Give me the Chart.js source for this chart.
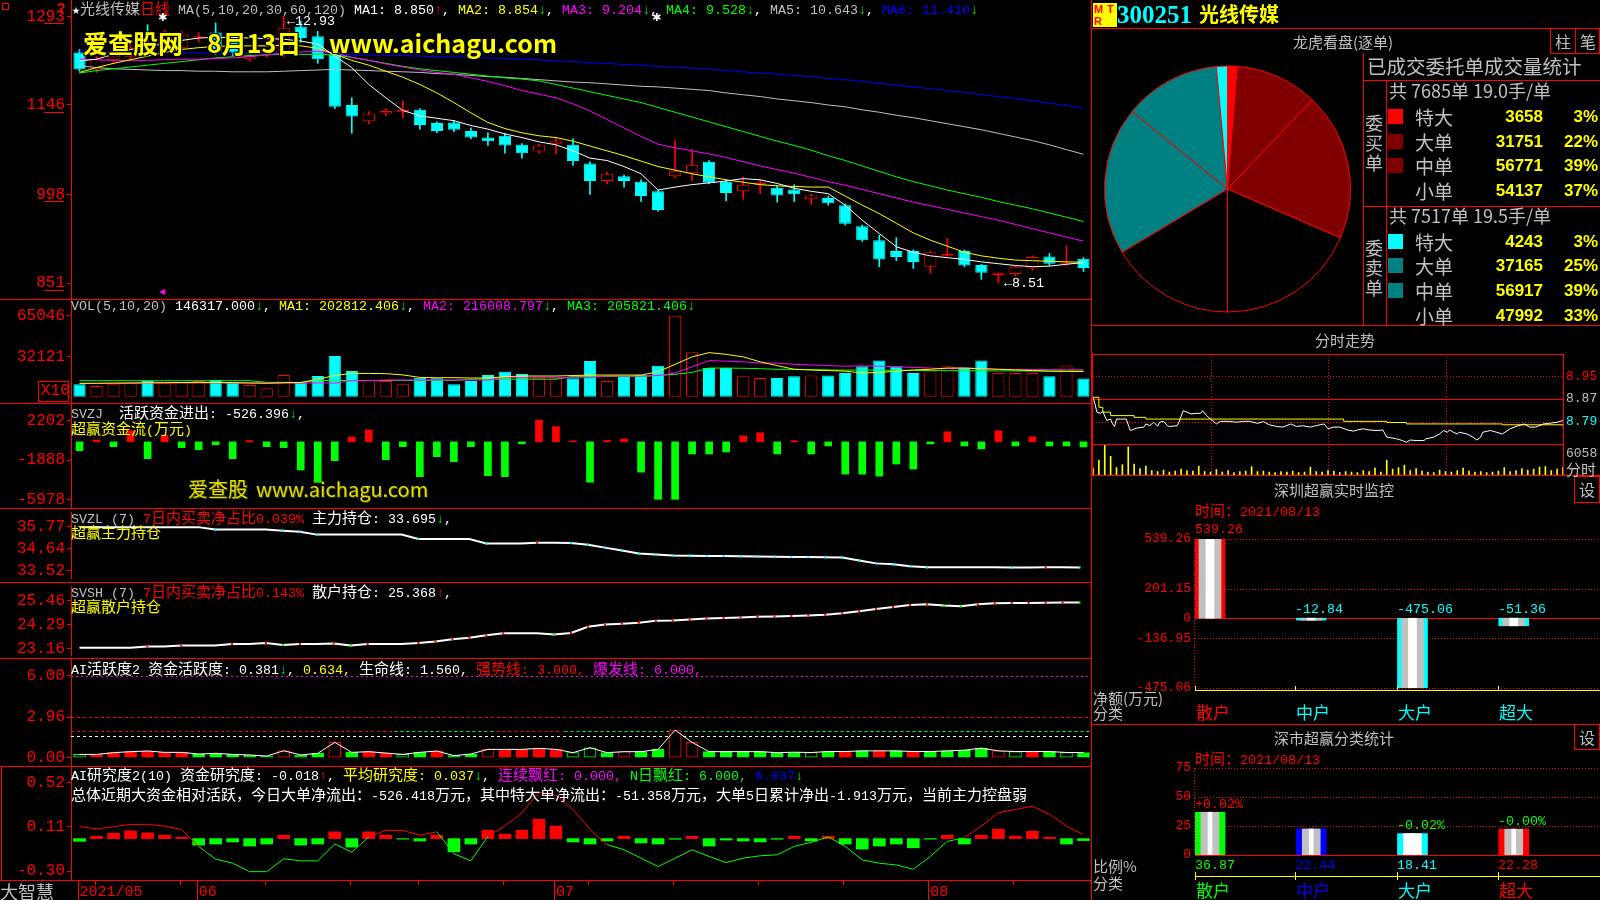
<!DOCTYPE html>
<html><head><meta charset="utf-8">
<script src="https://cdn.jsdelivr.net/npm/chart.js"></script>
<style>
html,body{margin:0;padding:0;background:#000;}
body{width:1600px;height:900px;overflow:hidden;position:relative;}
canvas{position:absolute;display:block;}
.t{position:absolute;white-space:pre;font-family:"Liberation Mono","DejaVu Sans Mono",monospace;font-size:13.33px;line-height:16px;color:#fff;z-index:5;}
.t .c{font-family:"Noto Sans CJK SC",sans-serif;font-size:15px;}
.d{position:absolute;white-space:pre;z-index:5;font-family:"Noto Sans CJK SC",sans-serif;line-height:1;}
.hl{position:absolute;height:1px;background:#f00;z-index:4;}
.vl{position:absolute;width:1px;background:#f00;z-index:4;}
.bx{position:absolute;border:1px solid #f00;box-sizing:border-box;z-index:4;}
</style></head><body>
<script>
// ---------------- DATA ----------------
const dates = ['2021-05-21','2021-05-24','2021-05-25','2021-05-26','2021-05-27','2021-05-28','2021-05-31',
'2021-06-01','2021-06-02','2021-06-03','2021-06-04','2021-06-07','2021-06-08','2021-06-09','2021-06-10','2021-06-11','2021-06-15','2021-06-16','2021-06-17','2021-06-18','2021-06-21','2021-06-22','2021-06-23','2021-06-24','2021-06-25','2021-06-28','2021-06-29','2021-06-30',
'2021-07-01','2021-07-02','2021-07-05','2021-07-06','2021-07-07','2021-07-08','2021-07-09','2021-07-12','2021-07-13','2021-07-14','2021-07-15','2021-07-16','2021-07-19','2021-07-20','2021-07-21','2021-07-22','2021-07-23','2021-07-26','2021-07-27','2021-07-28','2021-07-29','2021-07-30',
'2021-08-02','2021-08-03','2021-08-04','2021-08-05','2021-08-06','2021-08-09','2021-08-10','2021-08-11','2021-08-12','2021-08-13'];

const open  = [12.33,12.05,12.20,12.25,12.50,12.45,12.41,12.58,12.66,12.52,12.22,12.30,12.30,12.76,12.60,12.30,11.46,11.19,11.32,11.35,11.38,11.16,11.17,11.03,10.92,10.95,10.80,10.69,10.81,10.80,10.49,10.20,10.28,10.19,10.03,10.28,10.33,10.52,10.19,10.03,10.14,10.09,10.06,9.90,9.92,9.80,9.45,9.22,9.04,9.04,8.78,8.96,9.04,8.81,8.64,8.66,8.75,8.95,8.83,8.91];
const high  = [12.38,12.27,12.35,12.45,12.79,12.70,12.68,12.66,12.82,12.60,12.35,12.52,12.93,12.85,12.68,12.35,11.58,11.35,11.40,11.53,11.40,11.18,11.20,11.08,11.00,10.99,10.82,10.81,10.92,10.90,10.52,10.35,10.30,10.22,10.05,10.87,10.72,10.54,10.22,10.27,10.22,10.12,10.14,9.98,9.95,9.82,9.47,9.30,9.26,9.06,9.04,9.25,9.06,8.82,8.68,8.80,8.96,9.00,9.12,8.93];
const low   = [12.02,12.00,12.15,12.20,12.35,12.40,12.38,12.50,12.30,12.28,12.18,12.25,12.25,12.50,12.15,11.40,10.99,11.15,11.28,11.25,11.06,11.00,11.02,10.90,10.79,10.66,10.58,10.66,10.65,10.46,9.98,10.15,10.10,9.86,9.70,10.25,10.20,10.15,9.87,9.90,9.99,9.85,9.86,9.81,9.80,9.47,9.20,8.78,8.88,8.75,8.67,8.95,8.78,8.57,8.51,8.62,8.72,8.80,8.80,8.70];
const close = [12.05,12.22,12.28,12.40,12.40,12.60,12.63,12.60,12.35,12.33,12.27,12.46,12.74,12.57,12.22,11.43,11.27,11.32,11.36,11.38,11.13,11.03,11.05,10.92,10.86,10.79,10.66,10.79,10.87,10.53,10.20,10.32,10.20,9.95,9.72,10.37,10.47,10.17,10.00,10.14,10.17,9.96,9.98,9.96,9.83,9.49,9.22,8.90,8.94,8.86,9.02,8.99,8.80,8.68,8.67,8.78,8.94,8.83,8.85,8.76];

const ma5   = [12.19,12.22,12.30,12.38,12.42,12.48,12.53,12.57,12.58,12.58,12.57,12.56,12.55,12.52,12.47,12.27,12.08,11.80,11.58,11.37,11.28,11.24,11.20,11.12,11.06,10.98,10.92,10.85,10.80,10.70,10.58,10.54,10.44,10.32,10.05,10.10,10.14,10.17,10.20,10.24,10.22,10.16,10.08,10.03,9.99,9.80,9.55,9.33,9.11,9.02,8.96,8.93,8.90,8.86,8.83,8.80,8.78,8.79,8.82,8.850];
const ma10  = [12.00,12.08,12.15,12.21,12.27,12.33,12.38,12.41,12.43,12.44,12.44,12.44,12.45,12.44,12.40,12.30,12.20,12.12,12.02,11.92,11.80,11.66,11.50,11.33,11.17,11.07,11.00,10.95,10.92,10.86,10.78,10.70,10.62,10.53,10.44,10.38,10.32,10.27,10.22,10.18,10.14,10.12,10.11,10.10,10.10,9.95,9.80,9.66,9.50,9.34,9.22,9.12,9.02,8.96,8.92,8.89,8.88,8.87,8.86,8.854];
const ma20  = [12.22,12.21,12.20,12.20,12.20,12.21,12.22,12.22,12.23,12.24,12.26,12.29,12.32,12.34,12.35,12.33,12.25,12.20,12.14,12.09,12.04,12.00,11.97,11.91,11.85,11.78,11.70,11.64,11.58,11.48,11.36,11.22,11.08,10.94,10.81,10.75,10.70,10.65,10.59,10.52,10.45,10.39,10.33,10.26,10.19,10.13,10.06,9.99,9.92,9.85,9.79,9.73,9.67,9.61,9.55,9.48,9.41,9.34,9.27,9.204];
const ma30  = [11.99,12.03,12.06,12.09,12.12,12.15,12.18,12.21,12.24,12.26,12.28,12.29,12.30,12.30,12.30,12.29,12.25,12.20,12.15,12.10,12.06,12.03,12.00,11.97,11.94,11.91,11.89,11.86,11.80,11.74,11.68,11.62,11.56,11.50,11.42,11.34,11.26,11.18,11.10,11.02,10.94,10.86,10.79,10.71,10.62,10.54,10.45,10.36,10.27,10.19,10.12,10.05,9.99,9.93,9.86,9.80,9.74,9.67,9.60,9.528];
const ma60  = [12.11,12.08,12.06,12.05,12.04,12.03,12.03,12.02,12.02,12.01,12.01,12.01,12.02,12.03,12.04,12.05,12.04,12.03,12.02,12.01,12.00,11.98,11.97,11.95,11.93,11.92,11.90,11.88,11.86,11.84,11.83,11.81,11.79,11.77,11.76,11.74,11.72,11.70,11.66,11.63,11.60,11.56,11.53,11.50,11.46,11.43,11.38,11.34,11.29,11.25,11.20,11.15,11.10,11.05,10.99,10.93,10.87,10.80,10.72,10.643];
const ma120 = [12.35,12.35,12.34,12.34,12.33,12.33,12.33,12.32,12.32,12.32,12.31,12.31,12.31,12.30,12.30,12.30,12.29,12.29,12.28,12.28,12.27,12.26,12.26,12.25,12.24,12.23,12.22,12.21,12.19,12.18,12.16,12.15,12.13,12.12,12.10,12.09,12.07,12.05,12.03,12.01,11.99,11.97,11.95,11.93,11.90,11.88,11.85,11.82,11.79,11.76,11.73,11.70,11.67,11.63,11.60,11.57,11.53,11.49,11.45,11.410];

const vol     = [9905,8566,9905,11511,12582,10708,11511,12582,13385,11511,9370,6693,17400,11511,16597,32659,20613,13385,12582,9905,15259,14724,9905,12582,17400,20078,18204,15259,14724,14724,28644,12582,16597,17400,24896,65051,35604,23000,23000,16500,15000,15000,16500,17000,17000,19000,24500,29000,24500,19000,20500,24500,23000,29000,19000,19000,19000,16500,25000,14632];
const volMa5  = [10700,10800,10900,11000,11200,11300,11400,11500,11400,11300,11000,10800,11200,11400,14000,17000,18700,18700,18500,17500,15500,15200,15260,15000,15000,16000,16600,16600,16600,17000,17400,17400,17400,17400,20000,26000,32000,35400,34000,32000,28000,25000,22000,21400,21000,20500,19000,19500,20500,21500,22000,23000,23000,22500,22000,21500,21000,20500,20300,20281];
const volMa10 = [10700,10700,10800,10800,10900,10900,11000,11000,11000,11000,11000,11000,11000,11000,11000,11000,12800,12800,13400,13400,13400,13400,13400,13400,13400,15260,15260,15260,15260,15260,15260,16600,16600,16600,17000,19000,24000,29000,28500,28000,27000,27000,26000,25500,25000,24500,24700,24500,24000,23500,23000,22500,23000,22500,22000,22000,21800,21700,21650,21601];
const volMa20 = [12850,12850,12850,12850,12850,12850,12850,12850,12850,12850,12850,11500,11500,11500,13000,13000,13000,13000,13000,13000,13000,13000,13000,14000,14000,14000,14000,14000,14000,16300,16300,16300,16300,16300,17000,18000,19500,23000,23000,22800,22500,22000,22000,21800,21500,21400,21400,21300,21200,21100,21000,20900,20900,20800,20700,20700,20600,20600,20600,20582];

const svzj = [-918,200,-500,1160,-1750,710,-600,-810,-300,-1750,120,-500,-600,-2930,-4210,-1960,500,1230,-1850,-500,-3620,-1540,-2060,-500,-3520,-3620,-200,2270,1580,100,-4196,150,300,-3147,-5979,-5979,-1259,-1259,-1049,629,944,-1259,105,-1259,-420,-3357,-3357,-3567,-2308,-2832,-210,1049,-420,-734,1154,-420,524,-420,-420,-526];
const svzl = [35.74,35.74,35.74,35.74,35.74,35.74,35.74,35.74,35.62,35.62,35.62,35.62,35.56,35.51,35.36,35.36,35.36,35.36,35.36,35.36,35.14,35.14,35.14,35.14,34.91,34.91,34.91,34.95,34.95,34.93,34.85,34.70,34.55,34.40,34.35,34.30,34.29,34.28,34.27,34.26,34.25,34.24,34.23,34.22,34.21,34.20,34.05,33.90,33.85,33.75,33.70,33.70,33.70,33.70,33.70,33.69,33.69,33.70,33.70,33.695];
const svsh = [23.20,23.20,23.20,23.20,23.26,23.26,23.30,23.30,23.30,23.37,23.37,23.42,23.33,23.37,23.37,23.40,23.30,23.37,23.37,23.37,23.42,23.50,23.60,23.67,23.79,23.89,23.89,23.89,23.83,23.90,24.20,24.31,24.35,24.40,24.49,24.50,24.55,24.60,24.62,24.65,24.68,24.70,24.72,24.75,24.78,24.85,24.95,25.06,25.15,25.25,25.28,25.22,25.19,25.28,25.33,25.34,25.35,25.36,25.37,25.368];

const aiAct    = [0.24,0.24,0.37,0.44,0.49,0.39,0.39,0.27,0.32,0.24,0.20,0.12,0.51,0.20,0.32,1.12,0.39,0.44,0.34,0.24,0.39,0.49,0.15,0.27,0.61,0.61,0.61,0.68,0.61,0.37,0.73,0.37,0.44,0.44,0.61,2.02,1.12,0.44,0.44,0.44,0.44,0.37,0.40,0.38,0.45,0.45,0.50,0.50,0.50,0.45,0.45,0.50,0.55,0.70,0.50,0.45,0.45,0.45,0.38,0.381];
const aiActDir = [-1,1,1,1,1,1,1,-1,-1,-1,-1,-1,1,-1,-1,1,-1,1,1,-1,-1,1,-1,-1,1,1,1,1,1,-1,-1,-1,1,-1,-1,1,1,-1,-1,-1,-1,-1,-1,-1,-1,1,-1,1,-1,1,-1,-1,-1,-1,1,-1,1,-1,-1,-1];
const aiActNew = [1,0,0,0,0,0,0,0,0,0,0,0,1,0,0,1,0,0,0,1,0,0,0,0,1,0,0,0,0,1,1,0,1,0,0,1,1,0,0,0,0,0,0,1,0,0,0,0,0,0,0,0,0,0,1,1,0,0,1,0];
const lifeLine = 1.56, strongLine = 3.0, burstLine = 6.0, aiMidLevel = 1.95;
const aiMidRed = [[0,18],[25,28]], aiMidGreen = [[19,24],[29,59]];

const aiRes     = [-0.025,0.022,0.05,0.072,0.053,0.031,0.013,-0.06,-0.05,-0.031,-0.069,-0.05,0.031,-0.06,-0.05,0.063,-0.078,0.063,0.031,-0.005,-0.022,0.031,-0.122,-0.05,0.078,0.041,0.078,0.18,0.116,-0.031,-0.05,-0.022,0.022,-0.04,-0.05,-0.006,0.022,-0.069,-0.013,-0.022,-0.031,-0.006,0.022,-0.022,0.022,-0.05,-0.097,-0.069,-0.05,-0.085,-0.005,0.031,-0.05,0.031,0.088,0.022,0.069,0.013,-0.05,-0.018];
const aiResLine = [0.110,0.091,0.110,0.132,0.132,0.116,0.085,-0.072,-0.19,-0.228,-0.306,-0.306,-0.187,-0.206,-0.206,-0.05,-0.125,0.016,0.076,0.076,0.032,0.063,-0.14,-0.206,0.022,0.116,0.24,0.43,0.40,0.27,0.085,-0.056,-0.103,-0.181,-0.259,-0.181,-0.103,-0.165,-0.222,-0.181,-0.159,-0.15,-0.072,-0.034,0.016,-0.072,-0.197,-0.228,-0.244,-0.284,-0.165,-0.025,0.007,0.116,0.24,0.27,0.30,0.226,0.116,0.038];

const priceTicks = [12.93,11.46,9.98,8.51];
const volTicks   = [65046,32121];
const svzjTicks  = [2202,-1888,-5978];
const svzlTicks  = [35.77,34.64,33.52];
const svshTicks  = [25.46,24.29,23.16];
const aiActTicks = [6.00,2.96,0.00];
const aiResTicks = [0.52,0.11,-0.30];

// intraday
const prevClose = 8.87;
const intraMin   = [0,1,2,4,5,7,9,10,11,12,14,17,19,20,22,26,27,29,31,33,34,36,38,39,43,44,46,48,50,53,55,56,58,60,61,63,65,70,73,77,80,84,87,90,94,97,101,104,107,111,114,118,120,123,126,130,133,135,138,141,145,148,150,152,155,158,160,162,165,169,170,174,177,179,181,182,184,186,187,191,194,196,198,199,203,206,209,213,216,220,223,226,230,233,237,240];
const intraPrice = [8.876,8.853,8.824,8.820,8.827,8.795,8.800,8.783,8.774,8.800,8.800,8.800,8.760,8.762,8.768,8.772,8.783,8.777,8.789,8.775,8.789,8.792,8.777,8.774,8.777,8.791,8.829,8.824,8.818,8.820,8.820,8.829,8.812,8.800,8.795,8.783,8.792,8.792,8.789,8.792,8.792,8.785,8.791,8.780,8.774,8.772,8.783,8.774,8.777,8.772,8.777,8.783,8.766,8.772,8.772,8.762,8.758,8.762,8.766,8.762,8.760,8.762,8.737,8.735,8.731,8.725,8.719,8.727,8.725,8.725,8.731,8.737,8.748,8.760,8.754,8.762,8.754,8.748,8.754,8.748,8.737,8.727,8.737,8.754,8.760,8.754,8.748,8.766,8.774,8.783,8.772,8.772,8.783,8.785,8.789,8.795];
const intraAvgMin = [0,3,5,9,21,27,128,150,160,209,240];
const intraAvg    = [8.876,8.841,8.824,8.812,8.806,8.800,8.792,8.788,8.783,8.780,8.775];
const intraVol = [1400,3000,6058,3800,1500,2100,5700,2200,1300,1800,900,700,1000,600,800,1200,900,800,1800,700,600,1100,600,900,500,700,800,1700,700,800,600,500,700,600,800,500,600,1600,700,600,900,800,500,700,600,500,900,700,1400,600,3000,1200,1500,2000,900,1300,800,600,500,1000,700,600,900,1400,800,600,700,500,600,800,1500,700,900,1300,1000,1200,1600,1700,900,1200,1500];
const intraTicks = [8.95,8.87,8.79];

// order-book pie
const orderLabels = ['特大','大单','中单','小单'];
const buyVol  = [3658,31751,56771,54137];
const sellVol = [4243,37165,56917,47992];
const buyOrders = 7685, buyPerOrder = '19.0', sellOrders = 7517, sellPerOrder = '19.5';

// right bar charts
const classes  = ['散户','中户','大户','超大'];
const netFlow  = [539.26,-12.84,-475.06,-51.36];
const netTicks = [539.26,201.15,0,-136.95,-475.06];
const ratioPct = [36.87,22.44,18.41,22.28];
const ratioChg = ['+0.02%','','-0.02%','-0.00%'];
const pctTicks = [75,50,25,0];
const reportDate = '2021/08/13';

// ---------------- RENDER ----------------
const RED='#ff0000',CYAN='#00ffff',GREEN='#00ff00',YEL='#ffff00',MAG='#ff00ff',WHITE='#ffffff',GRAY='#c0c0c0',BLUE='#0000ff',TEAL='#008080',DRED='#800000';

Chart.defaults.animation = false;
Chart.defaults.responsive = false;
Chart.defaults.devicePixelRatio = 1;
Chart.defaults.plugins.legend.display = false;
Chart.defaults.plugins.tooltip.enabled = false;
Chart.defaults.font.family = 'Liberation Mono';

const deco = {
  id:'deco',
  beforeDatasetsDraw(chart, args, o){
    const {ctx, chartArea:a, scales} = chart;
    ctx.save(); ctx.lineWidth = 1;
    (o.h||[]).forEach(l=>{
      const py = Math.round(scales.y.getPixelForValue(l.v))+0.5;
      let x0=a.left, x1=a.right;
      if (l.i0 !== undefined){
        const hw=(scales.x.getPixelForValue(1)-scales.x.getPixelForValue(0))/2;
        x0=scales.x.getPixelForValue(l.i0)-hw; x1=scales.x.getPixelForValue(l.i1)+hw;
      }
      ctx.strokeStyle=l.c; ctx.setLineDash(l.d?Array.from(l.d):[]);
      ctx.beginPath(); ctx.moveTo(x0,py); ctx.lineTo(x1,py); ctx.stroke();
    });
    (o.v||[]).forEach(l=>{
      const px = Math.round(scales.x.getPixelForValue(l.v))+0.5;
      ctx.strokeStyle=l.c; ctx.setLineDash(l.d?Array.from(l.d):[]);
      ctx.beginPath(); ctx.moveTo(px,a.top); ctx.lineTo(px,a.bottom); ctx.stroke();
    });
    if (o.left){
      const px=Math.round(a.left)-0.5;
      ctx.strokeStyle=o.left; ctx.setLineDash([1,2]);
      ctx.beginPath(); ctx.moveTo(px,a.top); ctx.lineTo(px,a.bottom); ctx.stroke();
    }
    ctx.restore();
  },
  afterDraw(chart, args, o){
    const {ctx, chartArea:a, scales} = chart;
    ctx.save(); ctx.lineWidth=1; ctx.strokeStyle=RED; ctx.setLineDash([]);
    if (o.ul){
      scales.y.ticks.forEach(t=>{
        const py=Math.round(scales.y.getPixelForValue(t.value))+7.5;
        ctx.beginPath(); ctx.moveTo(44,py); ctx.lineTo(64,py); ctx.stroke();
      });
    }
    if (o.dt){
      const x=scales.x, top=a.bottom;
      dates.forEach((d,i)=>{
        const px=Math.round(x.getPixelForValue(i))-1.5;
        let len=0;
        if (i===0 || d.slice(5,7)!==dates[i-1].slice(5,7)) len=20;
        else if (new Date(d).getUTCDay() <= new Date(dates[i-1]).getUTCDay()) len=5;
        if (len){ ctx.beginPath(); ctx.moveTo(px,top); ctx.lineTo(px,top+len); ctx.stroke(); }
      });
    }
    ctx.restore();
  }
};
Chart.register(deco);

function mk(x,y,w,h){
  const c=document.createElement('canvas');
  c.width=w; c.height=h;
  c.style.left=x+'px'; c.style.top=y+'px'; c.style.width=w+'px'; c.style.height=h+'px';
  document.body.appendChild(c);
  return c;
}
function yr(v1,p1,v2,p2,top,bottom){
  const k=(v1-v2)/(p2-p1);
  return {min:v2-(bottom-p2)*k, max:v1+(p1-top)*k};
}
function leftY(r,ticks,fmt){
  return {type:'linear', position:'left', min:r.min, max:r.max,
    afterFit(s){ s.width=71; s.paddingTop=0; s.paddingBottom=0; },
    afterBuildTicks(s){ s.ticks=ticks.map(v=>({value:v})); },
    ticks:{color:RED, font:{size:16, family:'Liberation Mono'}, padding:2, autoSkip:false, callback:fmt},
    grid:{display:true, drawOnChartArea:false, drawTicks:true, tickLength:4, color:RED},
    border:{display:true, color:RED}};
}
const hidX = {type:'category', display:false, offset:true, grid:{display:false}};
function line(d,c,extra){ return Object.assign({type:'line', data:d, borderColor:c, borderWidth:1, pointRadius:0, tension:0, order:0}, extra||{}); }
function leftChart(top,h,datasets,y,plug,x){
  return new Chart(mk(0,top,1092,h), {type:'bar', data:{labels:dates, datasets},
    options:{layout:{padding:0}, scales:{x:x||hidX, y}, plugins:{deco:plug||{}}}});
}
const up = close.map((c,i)=>c>=open[i]);
function markColor(arr,upC,dnC){
  return ctx=>{ const i=ctx.dataIndex; if(i===0) return 'rgba(0,0,0,0)';
    const d=arr[i]-arr[i-1]; return d>0?upC:(d<0?dnC:'rgba(0,0,0,0)'); };
}

// price
leftChart(0,299,[
  line(ma5,WHITE), line(ma10,YEL), line(ma20,MAG), line(ma30,GREEN), line(ma60,GRAY), line(ma120,BLUE),
  {data:open.map((o,i)=>[o,close[i]]), backgroundColor:up.map(u=>u?'#000':CYAN), borderColor:up.map(u=>u?RED:CYAN),
   borderWidth:1, borderSkipped:false, grouped:false, barPercentage:0.72, categoryPercentage:1, order:1},
  {data:low.map((l,i)=>[l,high[i]]), backgroundColor:up.map(u=>u?RED:CYAN), borderWidth:0, grouped:false, barThickness:1, order:2}
], leftY(yr(12.93,16.3,8.51,283,0,299), priceTicks, v=>String(Math.round(v*100))), {ul:true});

// volume
leftChart(299,105,[
  line(volMa5,YEL), line(volMa10,MAG), line(volMa20,GREEN),
  {data:vol, backgroundColor:up.map(u=>u?'#000':CYAN), borderColor:up.map(u=>u?RED:CYAN), borderWidth:1, borderSkipped:false,
   barPercentage:0.72, categoryPercentage:1, order:1}
], leftY(yr(65046,315.7,32121,356.7,299,404), volTicks, v=>String(v)));

// SVZJ
leftChart(404,104,[
  {data:svzj, backgroundColor:svzj.map(v=>v>=0?RED:GREEN), barThickness:7, order:1}
], leftY(yr(2202,420.7,-5978,499.3,404,508), svzjTicks, v=>String(v)));

// SVZL
leftChart(508,74,[line(svzl,WHITE,{borderWidth:2, pointRadius:1.5, pointStyle:'rect', pointBorderWidth:0,
  pointBackgroundColor:markColor(svzl,RED,CYAN)})],
  leftY(yr(35.77,524.3,33.52,574,508,582), svzlTicks, v=>v.toFixed(2)));

// SVSH
leftChart(582,77,[line(svsh,WHITE,{borderWidth:2, pointRadius:1.5, pointStyle:'rect', pointBorderWidth:0,
  pointBackgroundColor:markColor(svsh,RED,GREEN)})],
  leftY(yr(25.46,598.3,23.16,651.7,582,659), svshTicks, v=>v.toFixed(2)));

// AI activity
leftChart(659,107,[
  line(aiAct,WHITE),
  {data:aiAct, backgroundColor:aiAct.map((v,i)=>aiActNew[i]?'#000':(aiActDir[i]>0?RED:GREEN)),
   borderColor:aiActDir.map(d=>d>0?RED:GREEN), borderWidth:1, borderSkipped:false, barThickness:12, order:1}
], leftY(yr(6,675.7,0,757.7,659,766), aiActTicks, v=>v.toFixed(2)),
  {h:[{v:burstLine,c:MAG,d:[2,3]},{v:strongLine,c:RED,d:[3,3]},
      ...aiMidRed.map(r=>({v:aiMidLevel,c:RED,d:[3,3],i0:r[0],i1:r[1]})),
      ...aiMidGreen.map(r=>({v:aiMidLevel,c:GREEN,d:[3,3],i0:r[0],i1:r[1]})),
      {v:lifeLine,c:WHITE,d:[3,3]}]});

// AI research + date axis
const dateX = {type:'category', offset:true, position:'bottom',
  afterFit(s){ s.height=20; s.paddingLeft=0; s.paddingRight=0; },
  grid:{display:false, drawTicks:false}, border:{display:true, color:RED},
  ticks:{autoSkip:false, maxRotation:0, minRotation:0, align:'start', padding:3, color:RED,
    font:{size:15, family:'Liberation Mono'},
    callback(v,i){ const d=dates[i]; if(i===0) return d.slice(0,4)+'/'+d.slice(5,7);
      return d.slice(5,7)!==dates[i-1].slice(5,7) ? d.slice(5,7) : ''; }}};
leftChart(766,134,[
  line(aiResLine,RED,{segment:{borderColor:c=>((c.p0.parsed.y+c.p1.parsed.y)/2>=0?RED:GREEN)}}),
  {data:aiRes, backgroundColor:aiRes.map(v=>v>=0?RED:GREEN), barThickness:12, order:1}
], leftY(yr(0.52,782.5,-0.30,871,766,880), aiResTicks, v=>v.toFixed(2)), {dt:true}, dateX);

// pie
new Chart(mk(1092,53,271,272), {type:'pie',
  data:{datasets:[{data:[...buyVol, ...sellVol.slice().reverse()],
    backgroundColor:[RED,DRED,DRED,'#000','#000',TEAL,TEAL,CYAN], borderColor:RED, borderWidth:1}]},
  options:{layout:{padding:12}}});

// intraday price
new Chart(mk(1092,354,508,90), {type:'line',
  data:{datasets:[
    {data:intraMin.map((m,k)=>({x:m,y:intraPrice[k]})), borderColor:WHITE, borderWidth:1, pointRadius:0},
    {data:intraAvgMin.map((m,k)=>({x:m,y:intraAvg[k]})), borderColor:YEL, borderWidth:1, pointRadius:0, stepped:true}]},
  options:{layout:{padding:{left:1,right:0,top:0,bottom:0}},
    scales:{x:{type:'linear',min:0,max:240,display:false,offset:false},
      y:{position:'right', min:prevClose-0.157, max:prevClose+0.157,
        afterFit(s){ s.width=37; s.paddingTop=0; s.paddingBottom=0; },
        afterBuildTicks(s){ s.ticks=intraTicks.map(v=>({value:v})); },
        ticks:{color:c=>[RED,GRAY,CYAN][c.index], font:{size:13,family:'Liberation Mono'}, padding:3, callback:v=>v.toFixed(2)},
        grid:{display:false, drawTicks:false}, border:{display:false}}},
    plugins:{deco:{h:[{v:intraTicks[0],c:RED,d:[1,2]},{v:prevClose,c:RED},{v:intraTicks[2],c:RED,d:[1,2]}],
                   v:[{v:60,c:RED,d:[1,2]},{v:120,c:RED,d:[1,2]},{v:180,c:RED,d:[1,2]}]}}}});

// intraday volume
new Chart(mk(1092,444,508,31), {type:'bar',
  data:{datasets:[{data:intraVol.map((v,k)=>({x:k*3,y:v})), backgroundColor:YEL, barThickness:1}]},
  options:{layout:{padding:{left:1,right:37,top:0,bottom:0}},
    scales:{x:{type:'linear',min:0,max:240,display:false,offset:false}, y:{min:0,max:6300,display:false}},
    plugins:{deco:{v:[{v:60,c:RED,d:[1,2]},{v:120,c:RED,d:[1,2]},{v:180,c:RED,d:[1,2]}]}}}});

// right bar charts
function rightY(min,max,ticks,fmt){
  return {position:'left', min, max,
    afterFit(s){ s.width=103; s.paddingTop=0; s.paddingBottom=0; },
    afterBuildTicks(s){ s.ticks=ticks.map(v=>({value:v})); },
    ticks:{color:RED, font:{size:13,family:'Liberation Mono'}, padding:4, autoSkip:false, callback:fmt},
    grid:{display:false, drawTicks:false}, border:{display:false}};
}
const netPts = netFlow.map((v,k)=>({x:k,y:v}));
new Chart(mk(1092,476,508,244), {type:'bar',
  data:{datasets:[
    {data:netPts, backgroundColor:[RED,CYAN,CYAN,CYAN], barThickness:30, grouped:false, order:3},
    {data:netPts, backgroundColor:GRAY, barThickness:22, grouped:false, order:2},
    {data:netPts, backgroundColor:WHITE, barThickness:8, grouped:false, order:1}]},
  options:{layout:{padding:{top:63,bottom:32,left:0,right:0}},
    scales:{x:{type:'linear',min:-0.148,max:3.852,display:false,offset:false},
      y:rightY(netTicks[4],netTicks[0],netTicks,v=>v===0?'0':v.toFixed(2))},
    plugins:{deco:{left:RED, h:[{v:netTicks[0],c:RED,d:[1,2]},{v:netTicks[1],c:RED,d:[1,2]},{v:netTicks[3],c:RED,d:[1,2]},{v:netTicks[4],c:RED,d:[1,2]},{v:0,c:RED}]}}}});

const pctPts = ratioPct.map((v,k)=>({x:k,y:v}));
new Chart(mk(1092,724,508,176), {type:'bar',
  data:{datasets:[
    {data:pctPts, backgroundColor:[GREEN,BLUE,CYAN,RED], barThickness:30, grouped:false, order:3},
    {data:pctPts, backgroundColor:[GRAY,GRAY,WHITE,GRAY], barThickness:18, grouped:false, order:2},
    {data:pctPts, backgroundColor:WHITE, barThickness:4, grouped:false, order:1}]},
  options:{layout:{padding:{top:44,bottom:45,left:0,right:0}},
    scales:{x:{type:'linear',min:-0.148,max:3.852,display:false,offset:false},
      y:rightY(0,75,pctTicks,v=>String(v))},
    plugins:{deco:{left:RED, h:[{v:75,c:RED,d:[1,2]},{v:50,c:RED,d:[1,2]},{v:25,c:RED,d:[1,2]},{v:0,c:RED}]}}}});

// ---------------- OVERLAYS ----------------
function el(cls,css){ const d=document.createElement('div'); d.className=cls; Object.assign(d.style,css); document.body.appendChild(d); return d; }
function hl(x,y,w,c){ el('hl',{left:x+'px',top:y+'px',width:w+'px',background:c||RED}); }
function vl(x,y,h,c){ el('vl',{left:x+'px',top:y+'px',height:h+'px',background:c||RED}); }
function bx(x,y,w,h){ el('bx',{left:x+'px',top:y+'px',width:w+'px',height:h+'px'}); }
function T(x,y,parts){
  const d=el('t',{left:x+'px',top:y+'px'});
  parts.forEach(([s,c])=>{
    s.split(/([\u2e80-\uffff]+)/).forEach(seg=>{
      if(!seg) return;
      const sp=document.createElement('span'); sp.textContent=seg; sp.style.color=c;
      if(/[\u2e80-\uffff]/.test(seg)) sp.className='c';
      d.appendChild(sp);
    });
  });
  return d;
}
function D(x,y,text,css){ const d=el('d',Object.assign({left:x+'px',top:y+'px'},css||{})); d.textContent=text; return d; }
function R(xr,y,text,css){ return D(xr-120,y,text,Object.assign({width:'120px',textAlign:'right'},css||{})); }

// left separators
[299,403,508,582,658,766,880].forEach(y=>hl(0,y,1092));
vl(1091,0,900);
bx(1,766,71,115);
bx(38,381,31,21);
D(41,383,'X10',{color:RED,fontFamily:'Liberation Mono',fontSize:'16px'});
el('bx',{left:'2px',top:'3px',width:'7px',height:'7px'});
D(57,1,'?',{color:RED,fontFamily:'Liberation Sans',fontWeight:'bold',fontSize:'14px'});
D(0,882,'大智慧',{color:GRAY,fontSize:'18px'});

// panel headers
T(72,0,[['★',WHITE],['光线传媒',GRAY],['日线',RED],[' MA(5,10,20,30,60,120) ',GRAY],['MA1: 8.850',WHITE],['↑',RED],[', ',WHITE],
  ['MA2: 8.854',YEL],['↓',GREEN],[', ',WHITE],['MA3: 9.204',MAG],['↓',GREEN],[', ',WHITE],['MA4: 9.528',GREEN],['↓',GREEN],[', ',WHITE],
  ['MA5: 10.643',GRAY],['↓',GREEN],[', ',WHITE],['MA6: 11.410',BLUE],['↓',GREEN]]);
T(71,299,[['VOL(5,10,20) ',GRAY],['146317.000',WHITE],['↓',GREEN],[', ',WHITE],['MA1: 202812.406',YEL],['↓',GREEN],[', ',WHITE],
  ['MA2: 216008.797',MAG],['↓',GREEN],[', ',WHITE],['MA3: 205821.406',GREEN],['↓',GREEN]]);
T(71,404,[['SVZJ  ',GRAY],['活跃资金进出: -526.396',WHITE],['↓',GREEN],[',',WHITE]]);
T(71,420,[['超赢资金流(万元)',YEL]]);
T(71,509,[['SVZL (7) ',GRAY],['7日内买卖净占比0.039%',RED],[' 主力持仓: 33.695',WHITE],['↓',GREEN],[',',WHITE]]);
T(71,524,[['超赢主力持仓',YEL]]);
T(71,583,[['SVSH (7) ',GRAY],['7日内买卖净占比0.143%',RED],[' 散户持仓: 25.368',WHITE],['↑',RED],[',',WHITE]]);
T(71,598,[['超赢散户持仓',YEL]]);
T(71,660,[['AI活跃度2 资金活跃度: 0.381',WHITE],['↓',GREEN],[', ',WHITE],['0.634, ',YEL],['生命线: 1.560, ',WHITE],
  ['强势线: 3.000, ',RED],['爆发线: 6.000,',MAG]]);
T(71,766,[['AI研究度2(10) 资金研究度: -0.018',WHITE],['↑',RED],[', ',WHITE],['平均研究度: 0.037',YEL],['↓',GREEN],[', ',WHITE],
  ['连续飘红: 0.000, ',MAG],['N日飘红: 6.000, ',GREEN],['0.037',BLUE],['↓',GREEN]]);
T(71,786,[['总体近期大资金相对活跃，今日大单净流出：-526.418万元，其中特大单净流出：-51.358万元，大单5日累计净出-1.913万元，当前主力控盘弱',WHITE]]);

// price annotations
T(287,14,[['←12.93',WHITE]]);
T(1004,276,[['←8.51',WHITE]]);
D(158,12,'✱',{color:WHITE,fontFamily:'DejaVu Sans',fontSize:'11px'});
D(652,12,'✱',{color:WHITE,fontFamily:'DejaVu Sans',fontSize:'11px'});
D(159,288,'◀',{color:MAG,fontFamily:'DejaVu Sans',fontSize:'8px'});

// watermarks
const wm={color:YEL,fontWeight:'bold',fontSize:'25px',textShadow:'1px 1px 0 #000,-1px -1px 0 #000,1px -1px 0 #000,-1px 1px 0 #000'};
D(83,30,'爱查股网',wm); D(207,30,'8月13日',wm); D(329,30,'www.aichagu.com',wm);
const wm2={color:'#e0e000',fontSize:'20px',textShadow:'1px 1px 0 #404000'};
D(188,479,'爱查股',wm2); D(256,479,'www.aichagu.com',wm2);

// right panel frame
hl(1092,28,508);
bx(1550,28,26,26); bx(1575,28,25,26);
vl(1363,53,272);
hl(1363,80,237); vl(1386,80,245); hl(1363,206,237); hl(1092,325,508);
bx(1092,354,472,122); hl(1092,444,471); hl(1092,475,508);
bx(1574,476,26,27);
hl(1092,724,508); bx(1574,724,26,26);

// header
const icon=el('d',{left:'1093px',top:'3px',width:'24px',height:'24px',background:YEL});
[['M',1,0],['T',14,0],['R',1,12]].forEach(([s,x,y])=>{const sp=document.createElement('span');sp.textContent=s;
  Object.assign(sp.style,{position:'absolute',left:x+'px',top:y+'px',color:RED,fontFamily:'Liberation Sans',fontWeight:'bold',fontSize:'11px',lineHeight:'12px'});icon.appendChild(sp);});
D(1117,2,'300251',{color:CYAN,fontFamily:'Liberation Serif',fontWeight:'bold',fontSize:'25px'});
D(1199,4,'光线传媒',{color:YEL,fontWeight:'bold',fontSize:'20px'});

// order table
D(1293,34,'龙虎看盘(逐单)',{color:GRAY,fontSize:'15px'});
D(1555,33,'柱',{color:GRAY,fontSize:'16px'}); D(1580,33,'笔',{color:GRAY,fontSize:'16px'});
D(1367,56,'已成交委托单成交量统计',{color:GRAY,fontSize:'19.5px'});
const sum=a=>a.reduce((s,v)=>s+v,0);
function tableBlock(y0,rowsY,vals,sqColors,count,per,side){
  D(1389,y0,`共 ${count}单 ${per}手/单`,{color:GRAY,fontSize:'18px'});
  const tot=sum(vals);
  vals.forEach((v,k)=>{
    const y=rowsY[k];
    if(sqColors[k]) el('d',{left:'1388px',top:(y-8)+'px',width:'15px',height:'15px',background:sqColors[k]});
    D(1415,y-10,orderLabels[k],{color:GRAY,fontSize:'19px'});
    R(1543,y-9,String(v),{color:YEL,fontFamily:'Liberation Sans',fontWeight:'bold',fontSize:'17px'});
    R(1598,y-9,Math.round(v/tot*100)+'%',{color:YEL,fontFamily:'Liberation Sans',fontWeight:'bold',fontSize:'17px'});
  });
  side.forEach((ch,k)=>D(1365,rowsY[0]-4+k*20,ch,{color:GRAY,fontSize:'18px'}));
}
tableBlock(81,[117,142,166,191],buyVol,[RED,DRED,DRED,null],buyOrders,buyPerOrder,['委','买','单']);
tableBlock(206,[242,266,291,316],sellVol,[CYAN,TEAL,TEAL,null],sellOrders,sellPerOrder,['委','卖','单']);

// intraday labels
D(1315,332,'分时走势',{color:GRAY,fontSize:'15px'});
D(1566,447,'6058',{color:GRAY,fontFamily:'Liberation Mono',fontSize:'13px'});
D(1566,461,'分时',{color:GRAY,fontSize:'15px'});

// net flow chart labels
D(1274,482,'深圳超赢实时监控',{color:GRAY,fontSize:'15px'});
D(1579,481,'设',{color:GRAY,fontSize:'16px'});
T(1195,502,[['时间：'+reportDate,RED]]);
const barLeft=[1195,1295,1397,1498];
const netColors=[RED,CYAN,CYAN,CYAN];
netFlow.forEach((v,k)=>T(barLeft[k], k===0?522:602, [[v.toFixed(2),netColors[k]]]));
hl(1195,690,405,YEL); barLeft.forEach(x=>vl(x,686,4,YEL));
D(1093,690,'净额(万元)',{color:GRAY,fontSize:'15px'});
D(1093,705,'分类',{color:GRAY,fontSize:'15px'});
classes.forEach((c,k)=>D(barLeft[k]+1,703,c,{color:netColors[k],fontSize:'17px'}));

// ratio chart labels
D(1274,730,'深市超赢分类统计',{color:GRAY,fontSize:'15px'});
D(1579,729,'设',{color:GRAY,fontSize:'16px'});
T(1195,750,[['时间：'+reportDate,RED]]);
const pctColors=[GREEN,BLUE,CYAN,RED];
const chgTop=[797,0,818,814];
ratioChg.forEach((s,k)=>{ if(s) T(barLeft[k],chgTop[k],[[s,s[0]==='+'?RED:GREEN]]); });
ratioPct.forEach((v,k)=>T(barLeft[k],858,[[v.toFixed(2),pctColors[k]]]));
hl(1195,876,405,YEL); barLeft.forEach(x=>vl(x,872,8,YEL));
D(1093,858,'比例%',{color:GRAY,fontSize:'15px'});
D(1093,875,'分类',{color:GRAY,fontSize:'15px'});
classes.forEach((c,k)=>D(barLeft[k]+1,881,c,{color:pctColors[k],fontSize:'17px'}));
</script>
</body></html>
